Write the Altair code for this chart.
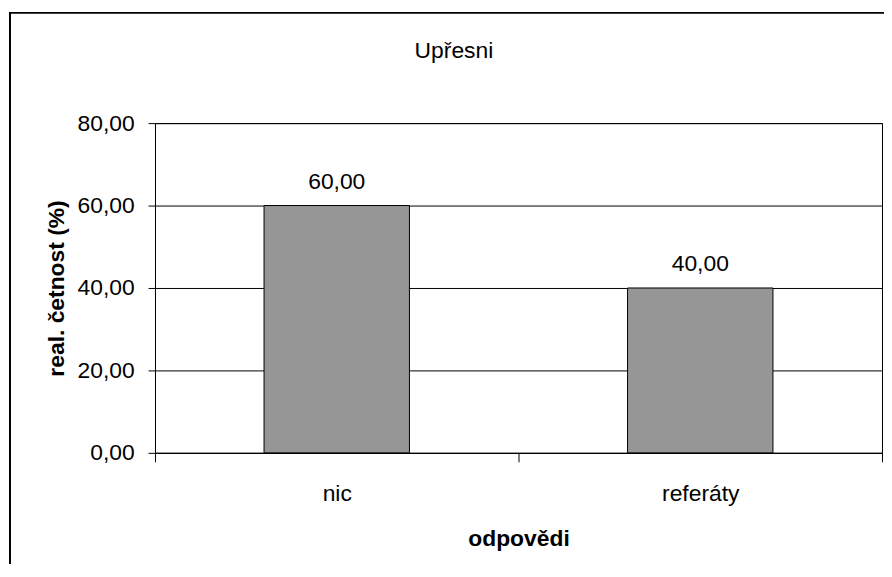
import altair as alt
import pandas as pd

chart_title = "Upřesni"
categories = ["nic", "referáty"]
values = [60.0, 40.0]
y_ticks = [0, 20, 40, 60, 80]

FONT = "Liberation Sans"
FS = 23

df = pd.DataFrame({"odpoved": categories, "cetnost": values})
one = pd.DataFrame({"k": [0]})

comma_fmt = "replace(format(datum.value, '.2f'), '.', ',')"

x_enc = alt.X(
    "odpoved:N",
    sort=categories,
    title="odpovědi",
    scale=alt.Scale(paddingInner=0, paddingOuter=0),
    axis=alt.Axis(
        labelAngle=0,
        tickBand="extent",
        tickSize=9,
        tickColor="black",
        domainColor="black",
        labelPadding=39,
        labelBaseline="alphabetic",
        titleY=93,
        titleBaseline="alphabetic",
        titleFontWeight="bold",
        grid=False,
    ),
)
y_enc = alt.Y(
    "cetnost:Q",
    title="real. četnost (%)",
    scale=alt.Scale(domain=[0, 80], nice=False),
    axis=alt.Axis(
        values=y_ticks,
        labelExpr=comma_fmt,
        tickSize=7,
        tickColor="black",
        domainColor="black",
        labelPadding=14,
        grid=True,
        gridColor="black",
        gridWidth=1,
        gridOpacity=1,
        titleX=-92,
        titleBaseline="alphabetic",
        titleFontWeight="bold",
    ),
)

frame = alt.Chart(one).mark_rect(fill="transparent", stroke="black", strokeWidth=2).encode(
    x=alt.value(-146), x2=alt.value(1000), y=alt.value(-111), y2=alt.value(1000)
)

bars = alt.Chart(df).mark_bar(
    width=alt.RelativeBandSize(0.4), color="#969696", stroke="black", strokeWidth=1
).encode(x=x_enc, y=y_enc)

labels = alt.Chart(df).transform_calculate(
    lab="replace(format(datum.cetnost, '.2f'), '.', ',')"
).mark_text(
    dy=-17, baseline="alphabetic", align="center", font=FONT, fontSize=FS, color="black"
).encode(x=alt.X("odpoved:N", sort=categories), y=alt.Y("cetnost:Q"), text="lab:N")

title = alt.Chart(one).mark_text(
    text=chart_title, align="center", baseline="alphabetic", font=FONT, fontSize=FS, color="black"
).encode(x=alt.value(301), y=alt.value(-66))

chart = alt.layer(frame, bars, labels, title).properties(
    width=732,
    height=332,
    autosize=alt.AutoSizeParams(type="none"),
    padding={"left": 148, "top": 114, "right": 2, "bottom": 110},
).configure_view(
    stroke="black", strokeWidth=1
).configure_axis(
    labelFont=FONT, labelFontSize=FS, labelColor="black",
    titleFont=FONT, titleFontSize=FS, titleColor="black",
)

chart.save("out.html", embed_options={"renderer": "svg", "actions": False})
